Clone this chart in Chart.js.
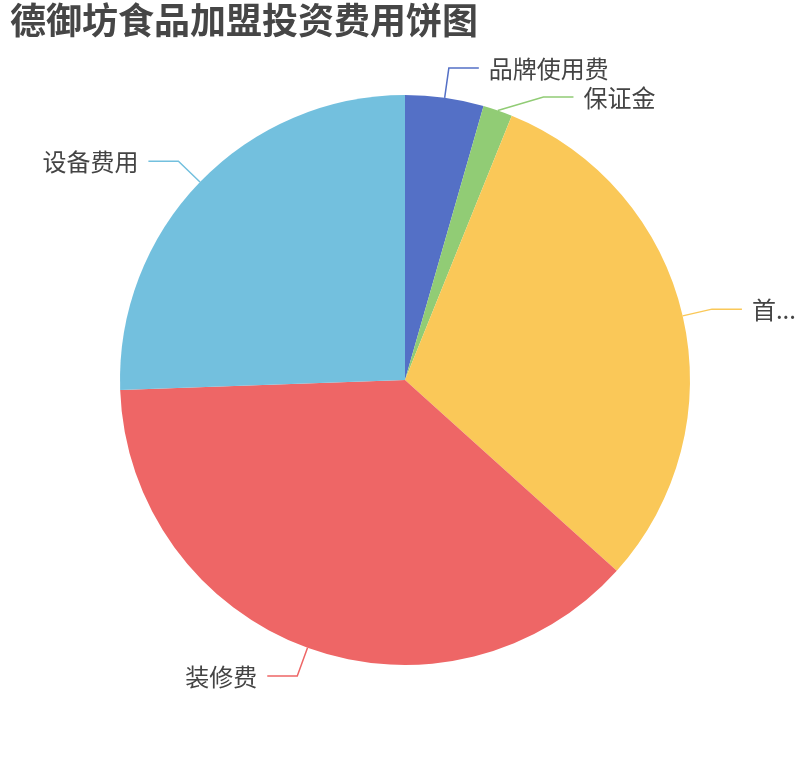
<!DOCTYPE html>
<html>
<head>
<meta charset="utf-8">
<script src="https://cdn.jsdelivr.net/npm/chart.js@4"></script>
<style>
  html, body { margin: 0; padding: 0; background: #fff; }
  #wrap { width: 810px; height: 760px; }
</style>
</head>
<body>
<div id="wrap"><canvas id="pie"></canvas></div>
<script>
// 德御坊 加盟投资费用 (万元)
const titleText = '德御坊食品加盟投资费用饼图';
const categories = ['品牌使用费', '保证金', '首批进货费', '装修费', '设备费用'];
const costs = [0.8, 0.3, 5.5, 6.8, 4.6];
const colors = ['#5470c6', '#91cc75', '#fac858', '#ee6666', '#73c0de'];

const FONT = '"Noto Sans CJK SC", "Noto Sans", sans-serif';

// draws the title and the outside labels with leader lines (echarts style)
const outsideLabels = {
  id: 'outsideLabels',
  afterDraw(chart) {
    const ctx = chart.ctx;
    const W = chart.width;
    ctx.save();

    ctx.fillStyle = '#464646';
    ctx.font = 'bold 36px ' + FONT;
    ctx.textBaseline = 'top';
    ctx.textAlign = 'left';
    ctx.fillText(titleText, 10, 2);

    const arcs = chart.getDatasetMeta(0).data;
    const len1 = 30, len2 = 30, gap = 10, minSpace = 29;
    let items = arcs.map((arc, i) => {
      const p = arc.getProps(['x', 'y', 'startAngle', 'endAngle', 'outerRadius'], true);
      const mid = (p.startAngle + p.endAngle) / 2;
      const r2 = p.outerRadius + len1;
      return {
        i, cx: p.x, cy: p.y, r2,
        sx: p.x + Math.cos(mid) * p.outerRadius,
        sy: p.y + Math.sin(mid) * p.outerRadius,
        dx0: Math.abs(Math.cos(mid) * r2),
        ex: p.x + Math.cos(mid) * r2,
        ey: p.y + Math.sin(mid) * r2,
        right: Math.cos(mid) >= 0
      };
    });

    // push overlapping labels downward on each side
    [true, false].forEach(side => {
      const s = items.filter(o => o.right === side).sort((a, b) => a.ey - b.ey);
      for (let j = 1; j < s.length; j++) {
        if (s[j].ey - s[j - 1].ey < minSpace) s[j].ey = s[j - 1].ey + minSpace;
      }
      s.forEach(o => {
        const dy = o.ey - o.cy;
        const dx = Math.max(Math.min(o.dx0, o.r2), Math.sqrt(Math.max(0, o.r2 * o.r2 - dy * dy)));
        o.ex = o.cx + (side ? dx : -dx);
      });
    });

    ctx.font = '24px ' + FONT;
    ctx.textBaseline = 'middle';
    items.forEach(o => {
      const hx = o.ex + (o.right ? len2 : -len2);
      ctx.strokeStyle = colors[o.i];
      ctx.lineWidth = 1.5;
      ctx.beginPath();
      ctx.moveTo(o.sx, o.sy);
      ctx.lineTo(o.ex, o.ey);
      ctx.lineTo(hx, o.ey);
      ctx.stroke();

      let text = categories[o.i];
      const tx = hx + (o.right ? gap : -gap);
      if (o.right) {
        const room = W - 20 - tx;
        if (ctx.measureText(text).width > room) {
          let n = text.length;
          while (n > 1 && ctx.measureText(text.slice(0, n) + '...').width > room) n--;
          text = text.slice(0, n) + '...';
        }
      }
      ctx.fillStyle = '#444';
      ctx.textAlign = o.right ? 'left' : 'right';
      ctx.fillText(text, tx, o.ey + 1);
    });
    ctx.restore();
  }
};

new Chart(document.getElementById('pie'), {
  type: 'pie',
  data: {
    labels: categories,
    datasets: [{
      data: costs,
      backgroundColor: colors,
      borderWidth: 0
    }]
  },
  options: {
    responsive: true,
    maintainAspectRatio: false,
    animation: false,
    layout: { padding: { top: 95, bottom: 95, left: 120, right: 120 } },
    plugins: {
      legend: { display: false },
      tooltip: { enabled: false },
      title: { display: false }
    }
  },
  plugins: [outsideLabels]
});
</script>
</body>
</html>
